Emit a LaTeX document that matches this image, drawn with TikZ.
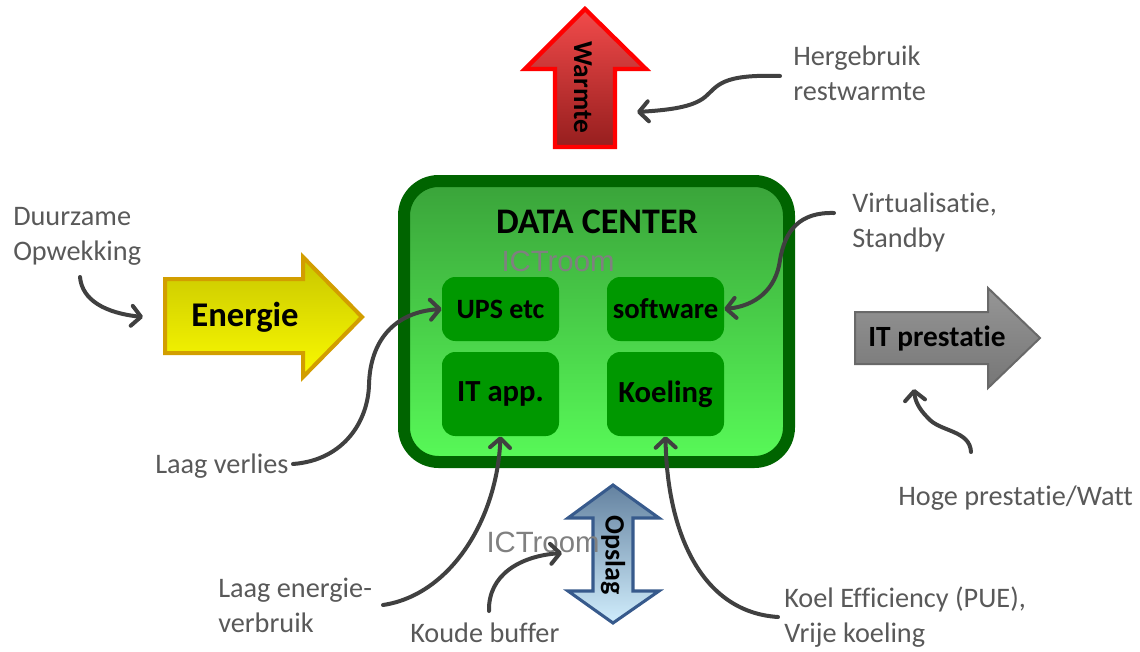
\documentclass[tikz,border=0pt]{standalone}
\usepackage{fontspec}
\setmainfont[Ligatures=NoCommon]{Carlito}
\newfontfamily\arialf{Liberation Sans}
\usetikzlibrary{arrows.meta}
\definecolor{lblc}{RGB}{89,89,89}
\definecolor{conc}{RGB}{64,64,64}
\definecolor{dcborder}{RGB}{0,100,0}
\definecolor{dctop}{RGB}{58,163,58}
\definecolor{dcbot}{RGB}{88,250,88}
\definecolor{iboxc}{RGB}{0,152,0}
\definecolor{ictc}{RGB}{128,128,128}
\begin{document}
\begin{tikzpicture}[x=0.75pt,y=-0.75pt,
  lbl/.style={text=lblc, font=\fontsize{21.2}{26}\selectfont, inner sep=0pt, align=left},
  conn/.style={draw=conc, line width=3pt, line cap=round,
    -{Straight Barb[round,length=7pt,width=15pt]}},
  innerbox/.style={fill=iboxc, rounded corners=10pt, minimum width=87.75pt, inner sep=0pt,
    text=black},
  bigtxt/.style={font=\bfseries\fontsize{21}{25}\selectfont, text=black, inner sep=0pt},
  ict/.style={font=\arialf\fontsize{22}{26}\selectfont, text=ictc, inner sep=0pt}]
\useasboundingbox (0,0) rectangle (1140,651);

% Data center
\node[draw=dcborder, line width=9pt, rounded corners=26pt, top color=dctop, bottom color=dcbot,
  minimum width=288.75pt, minimum height=210.75pt, inner sep=0pt] (dc) at (596.5,321.5) {};
\node[font=\bfseries\fontsize{27}{31}\selectfont, inner sep=0pt] (dctitle) at (597,222) {DATA CENTER};
\node[ict] (ict1) at (558,261) {ICTroom};
\node[innerbox, minimum height=48pt, font=\bfseries\fontsize{21}{25}\selectfont] (ups) at (500.5,309) {UPS etc};
\node[innerbox, minimum height=48pt, font=\bfseries\fontsize{21.5}{25}\selectfont] (soft) at (665.5,309) {software};
\node[innerbox, minimum height=63pt, font=\bfseries\fontsize{23}{27}\selectfont] (itapp) at (500.5,394) {IT app.};
\node[innerbox, minimum height=63pt, font=\bfseries\fontsize{23}{27}\selectfont] (koel) at (665.5,394) {Koeling};

% Warmte arrow
\draw[draw=red, line width=3.2pt, line join=miter, top color={rgb,255:red,242;green,75;blue,75}, bottom color={rgb,255:red,150;green,30;blue,30}]
  (585,9) -- (646,69) -- (615,69) -- (615,147) -- (555,147) -- (555,69) -- (525,69) -- cycle;
\node[bigtxt, font=\bfseries\fontsize{20.5}{24}\selectfont, rotate=-90] (warmte) at (583,87) {Warmte};

% Energie arrow
\draw[draw={rgb,255:red,210;green,158;blue,0}, line width=3pt, top color={rgb,255:red,200;green,198;blue,0}, bottom color={rgb,255:red,250;green,250;blue,0}]
  (165,279) -- (303,279) -- (303,257) -- (362,317) -- (303,377) -- (303,353) -- (165,353) -- cycle;
\node[bigtxt, font=\bfseries\fontsize{26}{30}\selectfont] (energie) at (245,317) {Energie};

% IT prestatie arrow
\draw[draw={rgb,255:red,105;green,105;blue,105}, line width=1.5pt, top color={rgb,255:red,150;green,150;blue,150}, bottom color={rgb,255:red,118;green,118;blue,118}]
  (855,312) -- (988,312) -- (988,288) -- (1040,338) -- (988,388) -- (988,364) -- (855,364) -- cycle;
\node[bigtxt, font=\bfseries\fontsize{22}{26}\selectfont] (itp) at (937,339) {IT prestatie};

% Opslag double arrow
\draw[draw={rgb,255:red,55;green,90;blue,140}, line width=2.3pt, top color={rgb,255:red,100;green,130;blue,160}, bottom color={rgb,255:red,208;green,237;blue,252}]
  (613,485) -- (659,518) -- (633,518) -- (633,591) -- (659,591) -- (613,623) -- (568,591) -- (593,591) -- (593,518) -- (568,518) -- cycle;
\node[bigtxt, font=\bfseries\fontsize{21}{25}\selectfont, rotate=-90] (opslag) at (613,555) {Opslag};
\node[ict] (ict2) at (543,542) {ICTroom};

% Labels (base anchor = baseline of last line)
\node[lbl, anchor=base west] (duur) at (13,260) {Duurzame\\Opwekking};
\node[lbl, anchor=base west] (herg) at (793,100) {Hergebruik\\restwarmte};
\node[lbl, anchor=base west] (virt) at (852,247) {Virtualisatie,\\Standby};
\node[lbl, anchor=base west] (verl) at (155,473) {Laag verlies};
\node[lbl, anchor=base west] (verb) at (218,632) {Laag energie-\\verbruik};
\node[lbl, anchor=base west] (koud) at (410,642) {Koude buffer};
\node[lbl, anchor=base west] (koeleff) at (784,642) {Koel Efficiency (PUE),\\Vrije koeling};
\node[lbl, anchor=base west] (hoge) at (898,505) {Hoge prestatie/Watt};

% connector end points
\coordinate (duurS) at (80,277);
\coordinate (energieL) at (143,317);
\coordinate (hergS) at (780,76);
\coordinate (warmteR) at (637,112);
\coordinate (virtS) at (834,213);
\coordinate (verlS) at (293,464);
\coordinate (verbS) at (383,605);
\coordinate (koudS) at (489,611);
\coordinate (opslagL) at (562,553);
\coordinate (koelS) at (778,617);
\coordinate (hogeS) at (971,452);
\coordinate (itpB) at (914,389);

% connectors
\draw[conn] (duurS) .. controls (82,300) and (105,313) .. (energieL);
\draw[conn] (hergS) .. controls (720,74) and (718,86) .. (705,97) .. controls (693,107) and (670,110) .. (warmteR);
\draw[conn] (virtS) .. controls (800,212) and (785,230) .. (780,260) .. controls (776,290) and (755,306) .. (soft.east);
\draw[conn] (verlS) .. controls (345,460) and (368,420) .. (369,385) .. controls (370,340) and (395,312) .. (ups.west);
\draw[conn] (verbS) .. controls (450,595) and (497,520) .. (itapp.south);
\draw[conn] (koudS) .. controls (488,575) and (520,556) .. (opslagL);
\draw[conn] (koelS) .. controls (700,612) and (667,530) .. (koel.south);
\draw[conn] (hogeS) .. controls (970,430) and (940,432) .. (928,418) .. controls (918,408) and (915,400) .. (itpB);
\end{tikzpicture}
\end{document}
